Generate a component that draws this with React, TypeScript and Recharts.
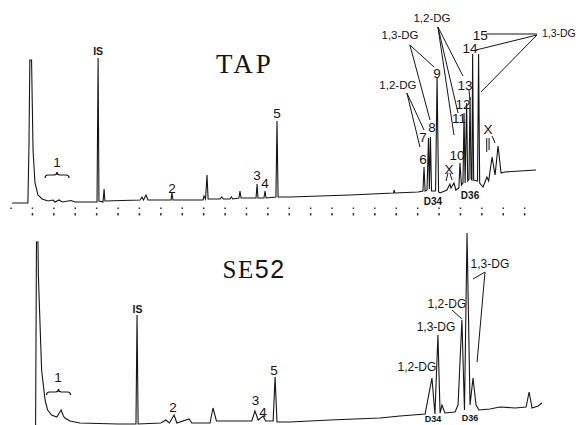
import React from 'react';
import { LineChart, Line, XAxis, YAxis, ReferenceLine, ReferenceDot } from 'recharts';

// retention grid (one mark per minute) and detector response
const tickMinutes = [0, 1, 2, 3, 4, 5, 6, 7, 8, 9, 10, 11, 12, 13, 14, 15, 16, 17, 18, 19, 20, 21, 22, 23, 24];

const tapTime = [
  0.05, 0.79, 0.84, 0.88, 0.96, 1.0, 1.03, 1.12, 1.26, 1.45, 1.73, 1.96, 2.06, 2.24, 2.4, 2.8, 3.0, 3.69,
  4.02, 4.07, 4.11, 4.3, 4.35, 4.39, 6.03, 6.12, 6.19, 6.31, 6.4, 7.48, 7.52, 7.57, 8.97, 9.02, 9.09,
  9.16, 9.21, 9.77, 9.85, 9.92, 10.23, 10.3, 10.36, 10.65, 10.7, 10.75, 11.45, 11.5, 11.54, 11.82, 11.87,
  11.92, 12.38, 12.43, 12.48, 13.04, 15.84, 17.87, 17.9, 17.94, 19.02, 19.25, 19.3, 19.35, 19.44, 19.51,
  19.55, 19.6, 19.65, 19.84, 19.91, 19.98, 20.05, 20.37, 20.51, 20.56, 20.7, 20.79, 20.93, 20.98, 21.05,
  21.12, 21.17, 21.22, 21.29, 21.34, 21.4, 21.45, 21.5, 21.54, 21.57, 21.62, 21.8, 21.85, 21.9, 22.06,
  22.24, 22.32, 22.48, 22.62, 22.76, 22.9, 23.08, 23.79, 24.53,
];
const tapSignal = [
  2, 2, 60, 145, 145, 95, 55, 22, 10, 6, 4, 5, 3, 5, 3, 4.5, 3, 3,
  3, 147, 4, 3, 16, 4, 5, 8, 5, 10, 5, 5, 12, 5, 5, 9, 6,
  30, 6, 6, 8, 6, 6, 8, 6, 7, 14, 7, 7, 21, 7, 7, 14,
  7, 8, 84, 8, 8, 10, 12, 15, 12, 13, 14, 38, 14, 15, 67,
  16, 68, 14, 14, 128, 13, 12, 15, 21, 17, 22, 15, 17, 42, 20,
  22, 92, 22, 102, 24, 26, 108, 26, 25, 151, 25, 24, 151, 22, 18,
  28, 24, 48, 30, 59, 32, 33, 34, 35,
];

const se52Time = [
  1.15, 1.19, 1.26, 1.28, 1.43, 1.59, 1.71, 1.9, 2.14, 2.34, 2.45, 2.52, 2.76, 3.22, 5.0, 5.84, 5.89, 5.94,
  7.0, 7.24, 7.4, 7.62, 7.75, 8.32, 8.45, 9.3, 9.44, 9.6, 11.25, 11.4, 11.55, 11.78, 11.9, 12.25, 12.34,
  12.43, 13.04, 14.9, 17.24, 18.18, 19.35, 19.67, 19.81, 19.95, 20.05, 20.14, 20.28, 20.75, 20.89, 21.07,
  21.19, 21.31, 21.45, 21.59, 21.73, 21.87, 22.38, 22.85, 23.55, 24.07, 24.21, 24.35, 24.63, 24.81,
];
const se52Signal = [
  1, 184, 184, 150, 56, 26, 16, 11, 9, 16, 10, 8, 5, 3, 2, 2, 111, 2,
  3, 6, 3, 11, 3, 7, 3, 3, 18, 5, 5, 15, 6, 10, 5, 5, 49,
  4, 4, 6, 8, 10, 12, 48, 12, 91, 13, 21, 13, 14, 21, 106,
  16, 193, 21, 48, 21, 16, 17, 19, 18, 19, 34, 18, 20, 23,
];

// peak labels: [minute, response, text]
const tapPeakLabels: [number, number, string][] = [
  [2.15, 43, '1'], [7.52, 17, '2'], [11.5, 30, '3'], [11.87, 22, '4'], [12.43, 92, '5'],
  [19.25, 46, '6'], [19.25, 68, '7'], [19.67, 78, '8'], [19.91, 132, '9'], [20.84, 50, '10'],
  [20.93, 87, '11'], [21.12, 101, '12'], [21.21, 120, '13'], [21.45, 157, '14'], [21.93, 170, '15'],
  [20.47, 36, 'X'], [22.29, 76, 'X'],
];
const tapGroupLabels: [number, number, string][] = [
  [18.08, 120, '1,2-DG'], [18.18, 170, '1,3-DG'], [19.67, 187, '1,2-DG'],
];
const tapLeaders: [number, number, number, number][] = [
  [18.5, 112, 19.11, 58], [18.5, 112, 19.3, 75],
  [18.64, 160, 19.58, 85], [18.64, 160, 19.77, 138],
  [19.95, 178, 20.7, 70], [19.95, 178, 20.89, 92], [19.95, 178, 21.12, 129],
  [22.2, 171, 24.58, 171], [24.58, 170, 21.73, 155], [24.58, 170, 21.96, 113],
  [20.42, 32, 20.33, 24], [20.51, 32, 20.61, 25],
  [22.23, 67, 22.23, 53], [22.34, 67, 22.34, 55], [22.48, 69, 22.62, 62],
  [21.4, 115, 21.45, 105],
];

const se52PeakLabels: [number, number, string][] = [
  [2.2, 49, '1'], [7.57, 19, '2'], [11.43, 26, '3'], [11.78, 14, '4'], [12.29, 56, '5'],
];
const se52GroupLabels: [number, number, string][] = [
  [18.97, 59, '1,2-DG'], [19.86, 99, '1,3-DG'], [20.37, 122, '1,2-DG'], [22.38, 162, '1,3-DG'],
];
const se52Leaders: [number, number, number, number][] = [
  [20.61, 116, 21.07, 107], [22.15, 154, 21.59, 147], [22.15, 154, 21.78, 64],
];

const tapRows = tapTime.map((t, i) => ({ t, v: tapSignal[i] }));
const se52Rows = se52Time.map((t, i) => ({ t, v: se52Signal[i] }));

const SANS = '"Liberation Sans", Arial, sans-serif';
const INK = '#151515';

const textDot = (key: string, t: number, v: number, text: React.ReactNode, style: any) => (
  <ReferenceDot
    key={key}
    x={t}
    y={v}
    r={0}
    ifOverflow="visible"
    shape={(p: any) => (
      <text x={p.cx} y={p.cy} textAnchor="middle" dominantBaseline="central" fill={INK} {...style}>
        {text}
      </text>
    )}
  />
);

const braceDot = (key: string, t: number, v: number) => (
  <ReferenceDot
    key={key}
    x={t}
    y={v}
    r={0}
    ifOverflow="visible"
    shape={(p: any) => (
      <path
        d={`M${p.cx - 12},${p.cy + 5} q0,-3 3,-3 h6 q3,0 3,-3 q0,3 3,3 h6 q3,0 3,3`}
        fill="none"
        stroke={INK}
        strokeWidth={1.2}
      />
    )}
  />
);

const leader = (key: string, s: [number, number, number, number]) => (
  <ReferenceLine
    key={key}
    segment={[{ x: s[0], y: s[1] }, { x: s[2], y: s[3] }]}
    stroke={INK}
    strokeWidth={1}
    ifOverflow="visible"
  />
);

const MinuteTick = (props: any) => {
  const { x, y } = props;
  return (
    <g>
      <rect x={x - 0.7} y={y + 2.5} width={1.5} height={1.5} fill="#333" />
      {props.payload.value > 0 && <rect x={x - 0.7} y={y + 8} width={1.5} height={2.5} fill="#333" />}
    </g>
  );
};

const App = () => {
  return (
    <div style={{ position: 'absolute', left: 0, top: 0, width: 579, height: 425, overflow: 'hidden', background: '#fff' }}>
      <div style={{ position: 'absolute', left: 0, top: 0 }}>
        <LineChart width={579} height={225} data={tapRows} margin={{ top: 20, right: 11.6, bottom: 0, left: 11 }}>
          <XAxis
            type="number"
            dataKey="t"
            domain={[0, 26]}
            ticks={tickMinutes}
            interval={0}
            axisLine={false}
            tickLine={false}
            tickSize={0}
            tickMargin={0}
            height={20}
            tick={<MinuteTick />}
            allowDataOverflow
          />
          <YAxis hide domain={[0, 185]} allowDataOverflow />
          <Line type="linear" dataKey="v" stroke={INK} strokeWidth={1.1} dot={false} isAnimationActive={false} />
          {textDot('title', 10.93, 141, 'TAP', { fontFamily: '"Liberation Serif", "Times New Roman", serif', fontSize: 27, letterSpacing: 3 })}
          {textDot('is', 4.07, 154, 'IS', { fontFamily: SANS, fontSize: 10.5, fontWeight: 'bold' })}
          {braceDot('brace', 2.15, 32)}
          {tapPeakLabels.map((n, i) => textDot(`p${i}`, n[0], n[1], n[2], { fontFamily: SANS, fontSize: 13.5 }))}
          {tapGroupLabels.map((n, i) => textDot(`g${i}`, n[0], n[1], n[2], { fontFamily: SANS, fontSize: 11.5 }))}
          {textDot('g-right', 25.6, 172, '1,3-DG', { fontFamily: SANS, fontSize: 10.5 })}
          {textDot('d34', 19.72, 4, 'D34', { fontFamily: SANS, fontSize: 10, fontWeight: 'bold' })}
          {textDot('d36', 21.45, 10, 'D36', { fontFamily: SANS, fontSize: 10, fontWeight: 'bold' })}
          {tapLeaders.map((s, i) => leader(`l${i}`, s))}
        </LineChart>
      </div>
      <div style={{ position: 'absolute', left: 0, top: 225 }}>
        <LineChart width={579} height={201} data={se52Rows} margin={{ top: 5, right: 11.6, bottom: 0, left: 11 }}>
          <XAxis type="number" dataKey="t" domain={[0, 26]} hide allowDataOverflow />
          <YAxis hide domain={[0, 196]} allowDataOverflow />
          <Line type="linear" dataKey="v" stroke={INK} strokeWidth={1.1} dot={false} isAnimationActive={false} />
          {textDot(
            'title',
            11.36,
            157,
            [
              <tspan key="a" fontFamily='"Liberation Serif", "Times New Roman", serif'>SE</tspan>,
              <tspan key="b" fontFamily={SANS}>52</tspan>,
            ],
            { fontSize: 25, letterSpacing: 1.5 }
          )}
          {textDot('is', 5.91, 117, 'IS', { fontFamily: SANS, fontSize: 10.5, fontWeight: 'bold' })}
          {braceDot('brace', 2.22, 36)}
          {se52PeakLabels.map((n, i) => textDot(`p${i}`, n[0], n[1], n[2], { fontFamily: SANS, fontSize: 13.5 }))}
          {se52GroupLabels.map((n, i) => textDot(`g${i}`, n[0], n[1], n[2], { fontFamily: SANS, fontSize: 12 }))}
          {textDot('d34', 19.72, 7, 'D34', { fontFamily: SANS, fontSize: 9, fontWeight: 'bold' })}
          {textDot('d36', 21.45, 8, 'D36', { fontFamily: SANS, fontSize: 9, fontWeight: 'bold' })}
          {se52Leaders.map((s, i) => leader(`l${i}`, s))}
        </LineChart>
      </div>
    </div>
  );
};

export default App;
